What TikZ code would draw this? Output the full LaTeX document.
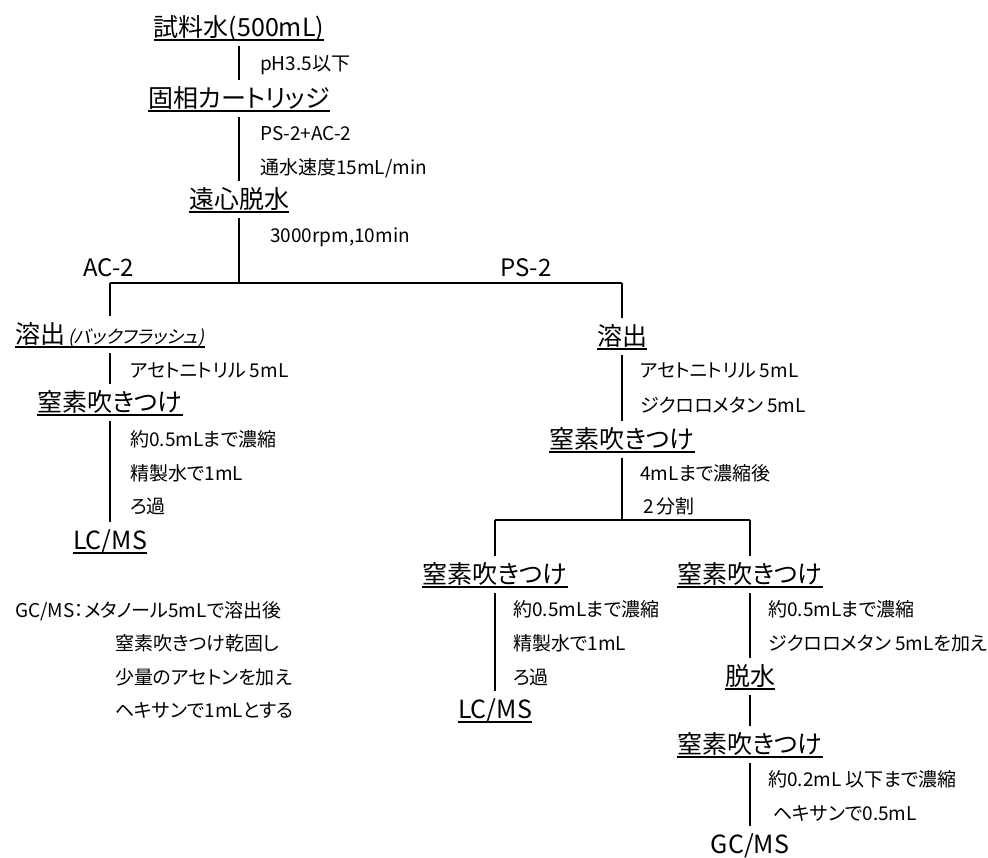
\documentclass[tikz,border=0pt]{standalone}
\usepackage{fontspec}
\setmainfont{Noto Sans CJK JP}[RawFeature=+palt]
\newfontfamily\jpsl{Noto Sans CJK JP}[FakeSlant=0.2,RawFeature=+palt]
\tikzset{
  head/.style={anchor=base, inner sep=0pt, font=\fontsize{25}{27}\selectfont, text height=18pt, text depth=5pt},
  lab/.style={anchor=base west, inner sep=0pt, font=\fontsize{24}{26}\selectfont},
  note/.style={anchor=base west, inner sep=0pt, font=\fontsize{19}{21}\selectfont},
  conn/.style={line width=2.8pt},
  ul/.style={line width=2.4pt},
}
\newcommand\ulnode[1]{\draw[ul] ([yshift=-4pt]#1.base west) -- ([yshift=-4pt]#1.base east);}
\begin{document}
\begin{tikzpicture}[x=1pt,y=-1pt]
\useasboundingbox (0,0) rectangle (988,857);
% main column
\node[head] (h1) at (239,36) {試料水(500mL)};
\node[note] (n1) at (260,70) {pH3.5以下};
\node[head] (h2) at (239,107) {固相カートリッジ};
\node[note] (n2) at (260,140) {PS-2+AC-2};
\node[note] (n3) at (260,174) {通水速度15mL/min};
\node[head] (h3) at (239,208) {遠心脱水};
\node[note] (n4) at (270,242) {3000rpm,10min};
\node[lab] (lAC) at (83,276) {AC-2};
\node[lab] (lPS) at (500,276) {PS-2};
\coordinate (jm) at (239,283);
\coordinate (jl) at (110,283);
\coordinate (jr) at (622,283);
% left branch
\node[head] (h4) at (110,343) {溶出{\jpsl\fontsize{18}{20}\selectfont\,(バックフラッシュ)}};
\node[note] (n5) at (130,377) {アセトニトリル 5mL};
\node[head] (h5) at (110,411) {窒素吹きつけ};
\node[note] (n6) at (130,446) {約0.5mLまで濃縮};
\node[note] (n7) at (130,480) {精製水で1mL};
\node[note] (n8) at (130,513) {ろ過};
\node[head] (h6) at (110,549) {LC/MS};
% right branch
\node[head] (h7) at (622,345) {溶出};
\node[note] (n9) at (640,377) {アセトニトリル 5mL};
\node[note] (n10) at (640,412) {ジクロロメタン 5mL};
\node[head] (h8) at (622,448) {窒素吹きつけ};
\node[note] (n11) at (640,480) {4mLまで濃縮後};
\node[note] (n12) at (643,513) {2\,分割};
\coordinate (jb) at (622,520);
\coordinate (jbl) at (495,520);
\coordinate (jbr) at (750,520);
\node[head] (h9) at (495,583) {窒素吹きつけ};
\node[note] (n13) at (513,616) {約0.5mLまで濃縮};
\node[note] (n14) at (513,650) {精製水で1mL};
\node[note] (n15) at (513,684) {ろ過};
\node[head] (h10) at (495,718) {LC/MS};
\node[head] (h11) at (750,583) {窒素吹きつけ};
\node[note] (n16) at (768,616) {約0.5mLまで濃縮};
\node[note] (n17) at (768,650) {ジクロロメタン 5mLを加え};
\node[head] (h12) at (750,685) {脱水};
\node[head] (h13) at (750,753) {窒素吹きつけ};
\node[note] (n18) at (768,786) {約0.2mL 以下まで濃縮};
\node[note] (n19) at (773,820) {ヘキサンで0.5mL};
\node[head] (h14) at (750,853) {GC/MS};
% GC/MS note
\node[note] (g1) at (15,617) {GC/MS：メタノール5mLで溶出後};
\node[note] (g2) at (115,650) {窒素吹きつけ乾固し};
\node[note] (g3) at (115,684) {少量のアセトンを加え};
\node[note] (g4) at (115,717) {ヘキサンで1mLとする};
% underlines
\foreach \n in {h1,h2,h3,h4,h5,h6,h7,h8,h9,h10,h11,h12,h13}{\ulnode{\n}}
% connectors
\draw[conn] ([yshift=-5pt]h1.south) -- ([yshift=9pt]h2.north);
\draw[conn] ([yshift=-5pt]h2.south) -- ([yshift=9pt]h3.north);
\draw[conn] ([yshift=-5pt]h3.south) -- (jm);
\draw[conn] (jl) -- (jr);
\draw[conn] (jl) -- ([yshift=9pt]h4.north);
\draw[conn] ([yshift=-5pt]h4.south) -- ([yshift=9pt]h5.north);
\draw[conn] ([yshift=-5pt]h5.south) -- ([yshift=9pt]h6.north);
\draw[conn] (jr) -- ([yshift=9pt]h7.north);
\draw[conn] ([yshift=-5pt]h7.south) -- ([yshift=9pt]h8.north);
\draw[conn] ([yshift=-5pt]h8.south) -- (jb);
\draw[conn] (jbl) -- (jbr);
\draw[conn] (jbl) -- ([yshift=9pt]h9.north);
\draw[conn] ([yshift=-5pt]h9.south) -- ([yshift=9pt]h10.north);
\draw[conn] (jbr) -- ([yshift=9pt]h11.north);
\draw[conn] ([yshift=-5pt]h11.south) -- ([yshift=9pt]h12.north);
\draw[conn] ([yshift=-5pt]h12.south) -- ([yshift=9pt]h13.north);
\draw[conn] ([yshift=-5pt]h13.south) -- ([yshift=9pt]h14.north);
\end{tikzpicture}
\end{document}
